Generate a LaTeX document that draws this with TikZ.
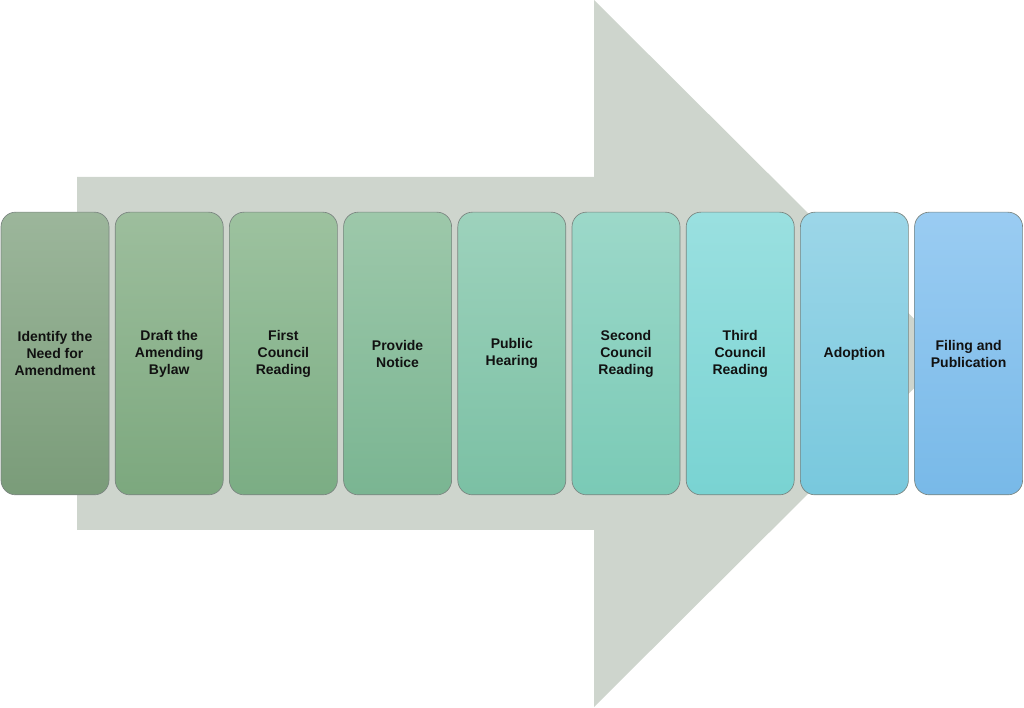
\documentclass[tikz,border=0pt]{standalone}
\usepackage{fontspec}
\setmainfont{Liberation Sans}
\usepackage{xcolor}
\usepackage{tikz}
\usetikzlibrary{positioning}
\definecolor{Shaft}{HTML}{CED5CD}
\definecolor{Edge}{HTML}{7A8580}
\definecolor{Ink}{HTML}{111111}
\definecolor{TopA}{HTML}{9CB69B}\definecolor{BotA}{HTML}{7A9C79}
\definecolor{TopB}{HTML}{9DBE9D}\definecolor{BotB}{HTML}{7CA87E}
\definecolor{TopC}{HTML}{9DC29F}\definecolor{BotC}{HTML}{7BAD84}
\definecolor{TopD}{HTML}{9DC8AA}\definecolor{BotD}{HTML}{7AB592}
\definecolor{TopE}{HTML}{9DD2BC}\definecolor{BotE}{HTML}{7BC0A4}
\definecolor{TopF}{HTML}{9CD8C9}\definecolor{BotF}{HTML}{7ACAB6}
\definecolor{TopG}{HTML}{9AE0E0}\definecolor{BotG}{HTML}{79D3D2}
\definecolor{TopH}{HTML}{9CD6E8}\definecolor{BotH}{HTML}{78C8DD}
\definecolor{TopI}{HTML}{9ACCF2}\definecolor{BotI}{HTML}{78B9E8}

\begin{document}
\begin{tikzpicture}[x=0.75pt,y=0.75pt,
  stepbox/.style={draw=Edge,line width=0.5pt,rounded corners=11pt,minimum width=81pt,minimum height=212pt,
    align=center,text=Ink,font=\bfseries\fontsize{10.5}{12.75}\selectfont},
  shade/.style 2 args={top color=#1,bottom color=#2}
]
  \useasboundingbox (0,0) rectangle (1024,707);
  % big background arrow
  \fill[Shaft] (77,177) -- (594,177) -- (594,0) -- (949,353.5) -- (594,707) -- (594,530) -- (77,530) -- cycle;
  % the nine steps
  \node[stepbox,shade={TopA}{BotA}] (st1) at (55,353.5) {Identify the\\Need for\\Amendment};
  \node[stepbox,shade={TopB}{BotB}] (st2) at (169.2,353.5) {Draft the\\Amending\\Bylaw};
  \node[stepbox,shade={TopC}{BotC}] (st3) at (283.4,353.5) {First\\Council\\Reading};
  \node[stepbox,shade={TopD}{BotD}] (st4) at (397.6,353.5) {Provide\\Notice};
  \node[stepbox,shade={TopE}{BotE}] (st5) at (511.8,353.5) {Public\\Hearing};
  \node[stepbox,shade={TopF}{BotF}] (st6) at (626,353.5) {Second\\Council\\Reading};
  \node[stepbox,shade={TopG}{BotG}] (st7) at (740.2,353.5) {Third\\Council\\Reading};
  \node[stepbox,shade={TopH}{BotH}] (st8) at (854.4,353.5) {Adoption};
  \node[stepbox,shade={TopI}{BotI}] (st9) at (968.6,353.5) {Filing and\\Publication};
\end{tikzpicture}
\end{document}
